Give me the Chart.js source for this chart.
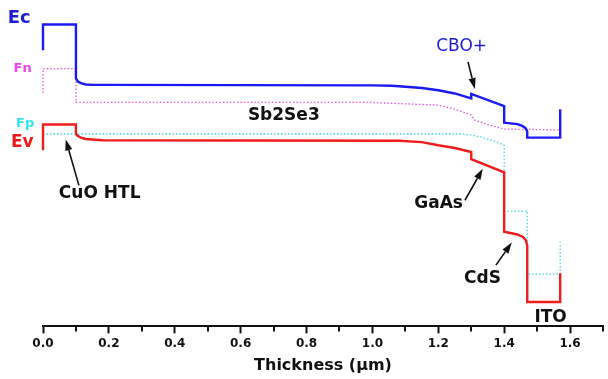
<!DOCTYPE html>
<html>
<head>
<meta charset="utf-8">
<script src="https://cdn.jsdelivr.net/npm/chart.js@4.4.1/dist/chart.umd.min.js"></script>
<style>
    html, body { margin: 0; padding: 0; background: #fff; }
    #wrap { width: 608px; height: 379px; }
</style>
</head>
<body>
<div id="wrap"><canvas id="bandChart" width="608" height="379"></canvas></div>
<script>
// Band edges (thickness in um, energy in eV, arbitrary offset)
const ecX = [0, 0, 0.1, 0.1, 0.105, 0.115, 0.13, 0.15, 0.2, 1.0, 1.06, 1.1, 1.15, 1.2, 1.25, 1.3, 1.3, 1.4, 1.4, 1.44, 1.455, 1.465, 1.47, 1.47, 1.57, 1.57];
const ecE = [6.13, 6.70, 6.70, 5.51, 5.44, 5.40, 5.37, 5.36, 5.36, 5.35, 5.34, 5.32, 5.29, 5.24, 5.17, 5.06, 5.16, 4.89, 4.52, 4.49, 4.45, 4.40, 4.33, 4.19, 4.19, 4.82];

const evX = [0, 0, 0.1, 0.1, 0.105, 0.115, 0.13, 0.18, 1.08, 1.15, 1.2, 1.25, 1.3, 1.3, 1.4, 1.4, 1.44, 1.458, 1.466, 1.47, 1.47, 1.57, 1.57];
const evE = [3.91, 4.48, 4.48, 4.28, 4.23, 4.19, 4.16, 4.13, 4.12, 4.09, 4.02, 3.96, 3.87, 3.71, 3.42, 2.10, 2.04, 1.98, 1.91, 1.80, 0.54, 0.54, 1.18];

// Quasi Fermi levels
const fnX = [0, 0, 0.1, 0.1, 1.0, 1.1, 1.2, 1.25, 1.3, 1.31, 1.35, 1.4, 1.57];
const fnE = [5.18, 5.72, 5.72, 4.97, 4.97, 4.94, 4.91, 4.82, 4.69, 4.58, 4.48, 4.38, 4.36];

const fpX = [0, 1.27, 1.3, 1.33, 1.37, 1.4, 1.4, 1.47, 1.47, 1.57, 1.57];
const fpE = [4.27, 4.27, 4.25, 4.20, 4.11, 4.02, 2.56, 2.56, 1.16, 1.16, 1.87];

// Text annotations (placed in data units)
const labelText = ['Ec', 'Fn', 'Fp', 'Ev', 'Sb2Se3', 'CuO HTL', 'CBO+', 'GaAs', 'CdS', 'ITO'];
const labelX = [-0.072, -0.062, -0.054, -0.063, 0.731, 0.172, 1.271, 1.201, 1.334, 1.541];
const labelE = [6.83, 5.71, 4.49, 4.08, 4.69, 2.94, 6.21, 2.72, 1.07, 0.19];

// Arrows: tail -> head
const arrowFrom = [[0.109, 3.13], [1.290, 5.87], [1.281, 2.80], [1.375, 1.36]];
const arrowTo = [[0.069, 4.15], [1.311, 5.27], [1.335, 3.50], [1.423, 1.86]];

const FONT = "'DejaVu Sans', sans-serif";
const labelStyle = {
    'Ec': { color: '#1c1cd0', font: 'bold 18px ' + FONT },
    'Fn': { color: '#ee44ee', font: 'bold 13px ' + FONT },
    'Fp': { color: '#33e3f3', font: 'bold 13px ' + FONT },
    'Ev': { color: '#ee1a1a', font: 'bold 17px ' + FONT },
    'CBO+': { color: '#1c1cd8', font: '17px ' + FONT }
};
const defaultStyle = { color: '#111', font: 'bold 17px ' + FONT };

function toPoints(xs, ys) {
    return xs.map((v, i) => ({ x: v, y: ys[i] }));
}

// Labels, arrows and the short minor ticks
const bandLabels = {
    id: 'bandLabels',
    afterDraw(chart) {
        const { ctx } = chart;
        const xs = chart.scales.x;
        const ys = chart.scales.y;
        ctx.save();

        // minor ticks every 0.1
        ctx.strokeStyle = '#111';
        ctx.lineWidth = 2;
        for (let k = 1; k <= 17; k += 2) {
            const px = Math.round(xs.getPixelForValue(k / 10));
            ctx.beginPath();
            ctx.moveTo(px, xs.top);
            ctx.lineTo(px, xs.top + 5);
            ctx.stroke();
        }

        // arrows
        ctx.fillStyle = '#111';
        ctx.lineWidth = 1.6;
        arrowFrom.forEach((from, i) => {
            const x1 = xs.getPixelForValue(from[0]);
            const y1 = ys.getPixelForValue(from[1]);
            const x2 = xs.getPixelForValue(arrowTo[i][0]);
            const y2 = ys.getPixelForValue(arrowTo[i][1]);
            const ang = Math.atan2(y2 - y1, x2 - x1);
            const head = 11, half = 3.6;
            const bx = x2 - head * Math.cos(ang);
            const by = y2 - head * Math.sin(ang);
            ctx.beginPath();
            ctx.moveTo(x1, y1);
            ctx.lineTo(bx, by);
            ctx.stroke();
            ctx.beginPath();
            ctx.moveTo(x2, y2);
            ctx.lineTo(bx + half * Math.sin(ang), by - half * Math.cos(ang));
            ctx.lineTo(bx - half * Math.sin(ang), by + half * Math.cos(ang));
            ctx.closePath();
            ctx.fill();
        });

        // text
        ctx.textAlign = 'center';
        ctx.textBaseline = 'middle';
        labelText.forEach((t, i) => {
            const s = labelStyle[t] || defaultStyle;
            ctx.font = s.font;
            ctx.fillStyle = s.color;
            ctx.fillText(t, xs.getPixelForValue(labelX[i]), ys.getPixelForValue(labelE[i]));
        });
        ctx.restore();
    }
};

const ctx = document.getElementById('bandChart').getContext('2d');
new Chart(ctx, {
    type: 'line',
    data: {
        datasets: [
            {
                label: 'Ec',
                data: toPoints(ecX, ecE),
                borderColor: '#1a1af5',
                borderWidth: 2.4
            },
            {
                label: 'Ev',
                data: toPoints(evX, evE),
                borderColor: '#f01c1c',
                borderWidth: 2.4
            },
            {
                label: 'Fn',
                data: toPoints(fnX, fnE),
                borderColor: '#e452e4',
                borderWidth: 1.3,
                borderDash: [1.5, 2]
            },
            {
                label: 'Fp',
                data: toPoints(fpX, fpE),
                borderColor: '#3ed6e6',
                borderWidth: 1.3,
                borderDash: [1.5, 2]
            }
        ]
    },
    options: {
        responsive: false,
        animation: false,
        devicePixelRatio: 1,
        layout: {
            padding: { left: 43, right: 5, top: 11, bottom: 4 }
        },
        elements: {
            point: { radius: 0 },
            line: { tension: 0, fill: false, borderCapStyle: 'butt', borderJoinStyle: 'miter' }
        },
        datasets: { line: { clip: false } },
        plugins: {
            legend: { display: false },
            tooltip: { enabled: false }
        },
        scales: {
            x: {
                type: 'linear',
                min: 0,
                max: 1.7,
                border: { display: true, color: '#111', width: 2 },
                grid: { drawOnChartArea: false, drawTicks: true, tickLength: 7, tickColor: '#111', tickWidth: 2 },
                ticks: {
                    stepSize: 0.2,
                    includeBounds: false,
                    autoSkip: false,
                    maxRotation: 0,
                    padding: 3,
                    color: '#111',
                    font: { family: FONT, size: 12, weight: 'bold' },
                    callback: v => v.toFixed(1)
                },
                title: {
                    display: true,
                    text: 'Thickness (\u03bcm)',
                    color: '#111',
                    padding: { top: 2, bottom: 0 },
                    font: { family: FONT, size: 16, weight: 'bold' }
                }
            },
            y: {
                type: 'linear',
                display: false,
                min: 0,
                max: 7
            }
        }
    },
    plugins: [bandLabels]
});
</script>
</body>
</html>
